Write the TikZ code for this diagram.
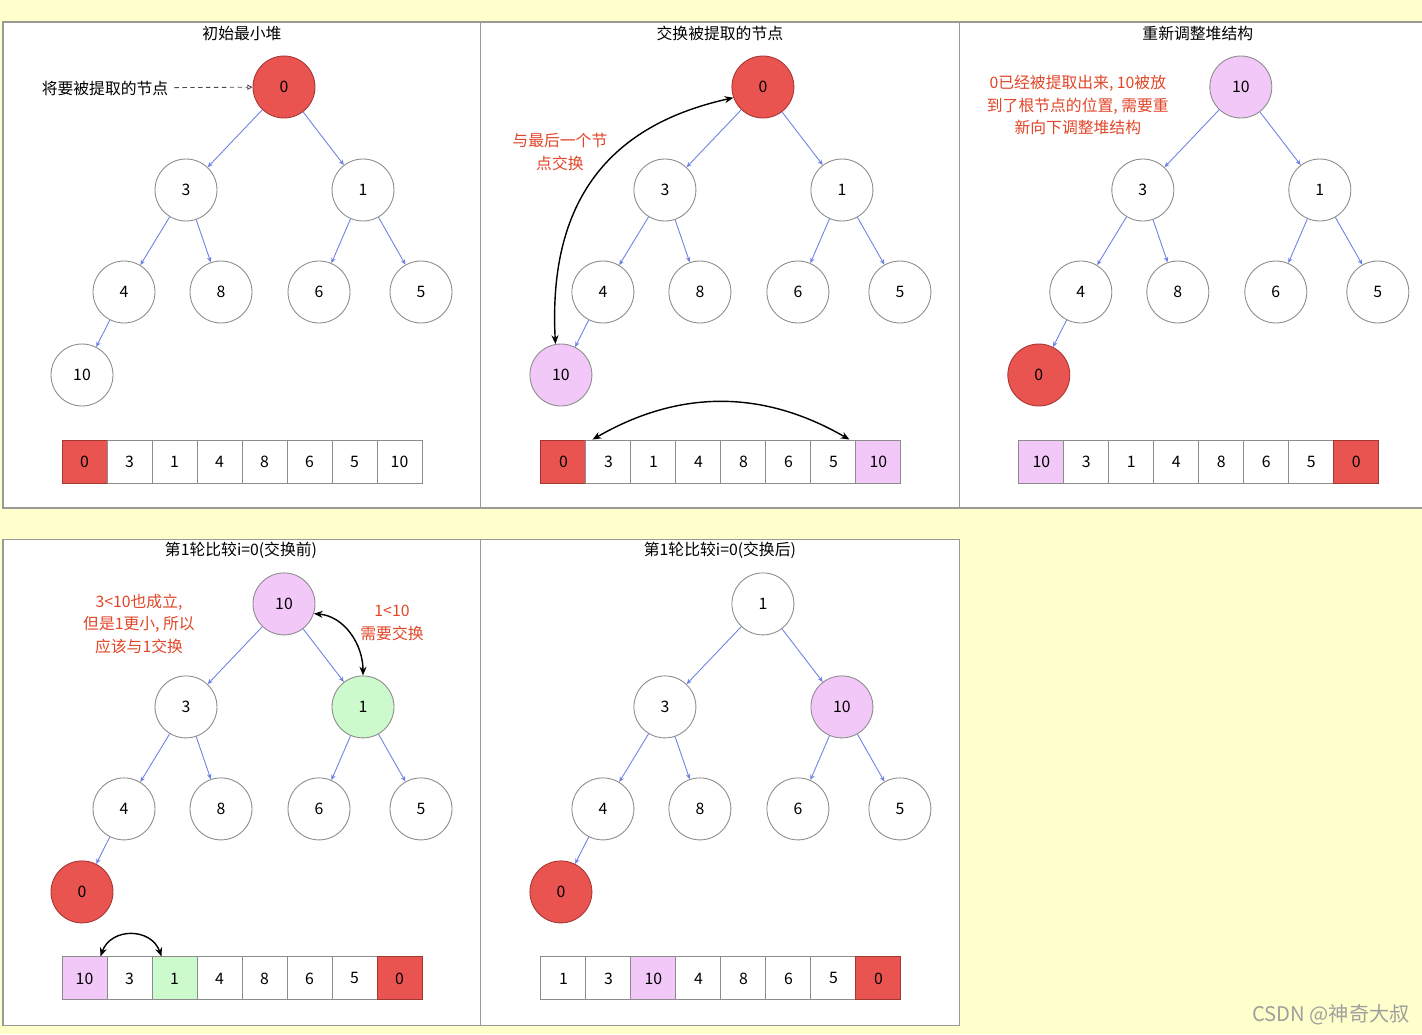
\documentclass[tikz,border=0pt]{standalone}
\usepackage{fontspec}
\newfontfamily\cjkfont{Noto Sans CJK SC}
\usetikzlibrary{arrows.meta}
\definecolor{hbg}{RGB}{255,255,204}
\definecolor{hredfill}{RGB}{234,84,80}
\definecolor{hredline}{RGB}{165,55,50}
\definecolor{hpinkfill}{RGB}{242,200,248}
\definecolor{hgreenfill}{RGB}{204,250,204}
\definecolor{hedgeblue}{RGB}{110,130,230}
\definecolor{notered}{RGB}{226,70,40}

\begin{document}
\begin{tikzpicture}[x=0.02cm, y=-0.02cm, >={Stealth[length=5pt,width=4pt]},
  font=\cjkfont\fontsize{9}{13}\selectfont,
  panel/.style={draw=gray!80, fill=white, line width=0.6pt},
  hnode/.style={circle, draw=gray!90, line width=0.5pt, fill=white, minimum size=1.24cm, inner sep=0pt},
  hred/.style={fill=hredfill, draw=hredline},
  hpink/.style={fill=hpinkfill},
  hgreen/.style={fill=hgreenfill},
  hwhite/.style={},
  hcell/.style={draw=gray!90, line width=0.5pt, fill=white, minimum width=0.9cm, minimum height=0.86cm, inner sep=0pt},
  hedge/.style={draw=hedgeblue, line width=0.5pt, -{Stealth[length=3pt,width=2.5pt]}},
  swaparrow/.style={<->, line width=0.8pt},
  redtext/.style={text=notered, align=center}]
\fill[hbg] (0,0) rectangle (1422,1034);
\useasboundingbox (0,0) rectangle (1422,1034);
\clip (0,0) rectangle (1422,1034);
% initial heap
\begin{scope}
  \draw[panel] (3,22) rectangle (481,508);
  \node (At) at (242,33) {初始最小堆};
  \node[hnode,hred] (Ar0) at (284,87) {0};
  \node[hnode] (Ar1) at (186,190) {3};
  \node[hnode] (Ar2) at (363,190) {1};
  \node[hnode] (Ar3) at (124,292) {4};
  \node[hnode] (Ar4) at (221,292) {8};
  \node[hnode] (Ar5) at (319,292) {6};
  \node[hnode] (Ar6) at (421,292) {5};
  \node[hnode] (Ar7) at (82,375) {10};
  \node (Alab) at (105,88) {将要被提取的节点};
  \draw[gray!60!black, line width=0.5pt, dash pattern=on 2.5pt off 2pt, -{Triangle[open,length=3pt,width=3pt]}] (Alab) -- (Ar0);
  \foreach \v/\s [count=\i from 0] in {0/hred,3/hwhite,1/hwhite,4/hwhite,8/hwhite,6/hwhite,5/hwhite,10/hwhite}
    \node[hcell,\s] (Ac\i) at ({84.5+45*\i},461.5) {\v};
\end{scope}
% swap with the last node
\begin{scope}[xshift=9.58cm]
  \draw[panel] (2,22) rectangle (481,508);
  \node (Bt) at (241,33) {交换被提取的节点};
  \node[hnode,hred] (Br0) at (284,87) {0};
  \node[hnode] (Br1) at (186,190) {3};
  \node[hnode] (Br2) at (363,190) {1};
  \node[hnode] (Br3) at (124,292) {4};
  \node[hnode] (Br4) at (221,292) {8};
  \node[hnode] (Br5) at (319,292) {6};
  \node[hnode] (Br6) at (421,292) {5};
  \node[hnode,hpink] (Br7) at (82,375) {10};
  \node[redtext] (Bnote) at (81,152) {与最后一个节\\点交换};
  \draw[swaparrow] (Br7.100) .. controls (69,200) and (131,125) .. (Br0.200);
  \foreach \v/\s [count=\i from 0] in {0/hred,3/hwhite,1/hwhite,4/hwhite,8/hwhite,6/hwhite,5/hwhite,10/hpink}
    \node[hcell,\s] (Bc\i) at ({84.5+45*\i},461.5) {\v};
  \draw[swaparrow] ([xshift=0.14cm]Bc1.north west) to[bend left=30] ([xshift=-0.12cm]Bc7.north west);
\end{scope}
% rebuild the heap
\begin{scope}[xshift=19.14cm]
  \draw[panel] (3,22) rectangle (490,508);
  \node (Ct) at (241,33) {重新调整堆结构};
  \node[hnode,hpink] (Cr0) at (284,87) {10};
  \node[hnode] (Cr1) at (186,190) {3};
  \node[hnode] (Cr2) at (363,190) {1};
  \node[hnode] (Cr3) at (124,292) {4};
  \node[hnode] (Cr4) at (221,292) {8};
  \node[hnode] (Cr5) at (319,292) {6};
  \node[hnode] (Cr6) at (421,292) {5};
  \node[hnode,hred] (Cr7) at (82,375) {0};
  \node[redtext] (Cnote) at (121,105) {0已经被提取出来, 10被放\\到了根节点的位置, 需要重\\新向下调整堆结构};
  \foreach \v/\s [count=\i from 0] in {10/hpink,3/hwhite,1/hwhite,4/hwhite,8/hwhite,6/hwhite,5/hwhite,0/hred}
    \node[hcell,\s] (Cc\i) at ({84.5+45*\i},461.5) {\v};
\end{scope}
% round 1, before the swap
\begin{scope}[yshift=-10.34cm]
  \draw[panel] (3,23) rectangle (481,509);
  \node (Dt) at (241,33) {第1轮比较i=0(交换前)};
  \node[hnode,hpink] (Dr0) at (284,87) {10};
  \node[hnode] (Dr1) at (186,190) {3};
  \node[hnode,hgreen] (Dr2) at (363,190) {1};
  \node[hnode] (Dr3) at (124,292) {4};
  \node[hnode] (Dr4) at (221,292) {8};
  \node[hnode] (Dr5) at (319,292) {6};
  \node[hnode] (Dr6) at (421,292) {5};
  \node[hnode,hred] (Dr7) at (82,375) {0};
  \node[redtext] (Dnote) at (139,107) {3<10也成立,\\但是1更小, 所以\\应该与1交换};
  \node[redtext] (Dswap) at (392,106) {1<10\\需要交换};
  \draw[swaparrow] (Dr0.-18) to[out=-5,in=90] (Dr2.north);
  \foreach \v/\s [count=\i from 0] in {10/hpink,3/hwhite,1/hgreen,4/hwhite,8/hwhite,6/hwhite,5/hwhite,0/hred}
    \node[hcell,\s] (Dc\i) at ({84.5+45*\i},461.5) {\v};
  \draw[swaparrow] ([xshift=-0.14cm]Dc0.north east) to[out=70,in=110,looseness=1.3] ([xshift=0.2cm]Dc2.north west);
\end{scope}
% round 1, after the swap
\begin{scope}[xshift=9.58cm, yshift=-10.34cm]
  \draw[panel] (2,23) rectangle (481,509);
  \node (Et) at (241,33) {第1轮比较i=0(交换后)};
  \node[hnode] (Er0) at (284,87) {1};
  \node[hnode] (Er1) at (186,190) {3};
  \node[hnode,hpink] (Er2) at (363,190) {10};
  \node[hnode] (Er3) at (124,292) {4};
  \node[hnode] (Er4) at (221,292) {8};
  \node[hnode] (Er5) at (319,292) {6};
  \node[hnode] (Er6) at (421,292) {5};
  \node[hnode,hred] (Er7) at (82,375) {0};
  \foreach \v/\s [count=\i from 0] in {1/hwhite,3/hwhite,10/hpink,4/hwhite,8/hwhite,6/hwhite,5/hwhite,0/hred}
    \node[hcell,\s] (Ec\i) at ({84.5+45*\i},461.5) {\v};
\end{scope}
\foreach \p in {A,B,C,D,E}
  \foreach \a/\b in {0/1,0/2,1/3,1/4,2/5,2/6,3/7}
    \draw[hedge] (\p r\a) -- (\p r\b);
\node[text=gray!75, font=\cjkfont\fontsize{11.5}{13}\selectfont] (wm) at (1331,1015) {CSDN @神奇大叔};
\end{tikzpicture}
\end{document}
